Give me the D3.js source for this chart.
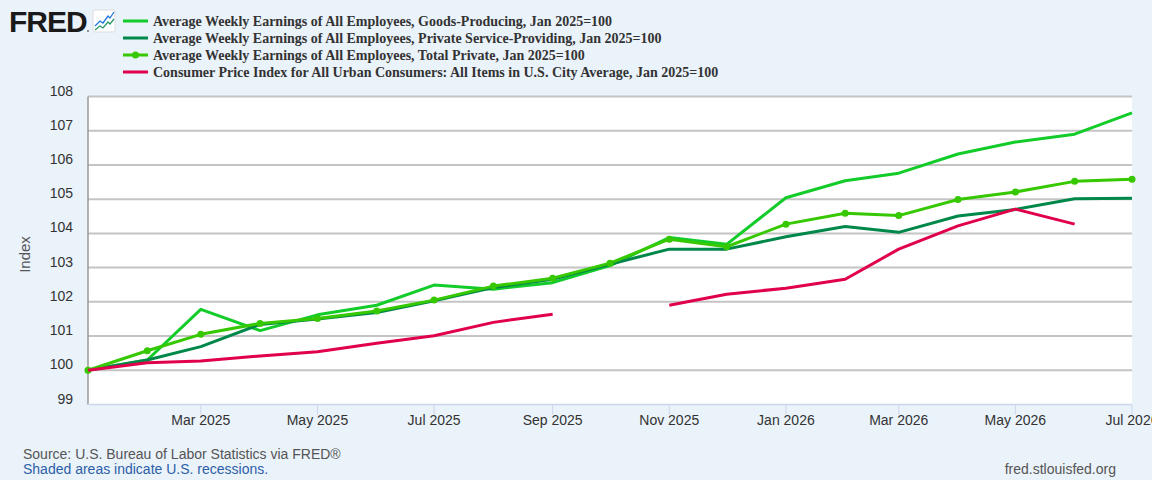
<!doctype html>
<html>
<head>
<meta charset="UTF-8">
<title>FRED earnings vs CPI</title>
<script src="https://cdn.jsdelivr.net/npm/d3@7"></script>
<style>
    body { margin:0; background:#eaf2fa; }
    text { font-family: "Liberation Sans", Arial, sans-serif; }
    .legend text { font-family: "Liberation Serif", "Times New Roman", serif; font-weight:700; font-size:14px; fill:#333; }
    .tick-y { font-size:14px; fill:#333; }
    .tick-x { font-size:14px; fill:#333; text-anchor:middle; }
</style>
</head>
<body>
<script>
    // monthly observations, Jan 2025 = 100
    var months = ['2025-01','2025-02','2025-03','2025-04','2025-05','2025-06','2025-07','2025-08','2025-09','2025-10',
                  '2025-11','2025-12','2026-01','2026-02','2026-03','2026-04','2026-05','2026-06','2026-07'];

    var goods   = [100, 100.30, 101.78, 101.16, 101.62, 101.90, 102.49, 102.37, 102.56, 103.06,
                   103.88, 103.68, 105.04, 105.54, 105.76, 106.32, 106.67, 106.90, 107.52];
    var service = [100, 100.30, 100.69, 101.34, 101.50, 101.69, 102.03, 102.42, 102.66, 103.10,
                   103.54, 103.54, 103.90, 104.20, 104.03, 104.51, 104.70, 105.01, 105.03];
    var total   = [100, 100.57, 101.05, 101.37, 101.51, 101.73, 102.05, 102.46, 102.69, 103.13,
                   103.83, 103.61, 104.27, 104.59, 104.52, 104.99, 105.21, 105.52, 105.58];
    var cpi     = [100, 100.22, 100.27, 100.42, 100.54, 100.79, 101.01, 101.40, 101.64, null,
                   101.90, 102.22, 102.40, 102.66, 103.54, 104.22, 104.71, 104.27, null];

    var yTicks = [99, 100, 101, 102, 103, 104, 105, 106, 107, 108];
    var xTicks = ['2025-03','2025-05','2025-07','2025-09','2025-11','2026-01','2026-03','2026-05','2026-07'];

    var seriesNames = [
        'Average Weekly Earnings of All Employees, Goods-Producing, Jan 2025=100',
        'Average Weekly Earnings of All Employees, Private Service-Providing, Jan 2025=100',
        'Average Weekly Earnings of All Employees, Total Private, Jan 2025=100',
        'Consumer Price Index for All Urban Consumers: All Items in U.S. City Average, Jan 2025=100'
    ];
    var seriesColors = ['#13cc2a', '#00884a', '#36c800', '#e0004b'];

    var W = 1152, H = 480;
    var plot = { left: 88, right: 1132, top: 96.5, bottom: 404.5 };

    var parse = d3.timeParse('%Y-%m');
    var dates = months.map(parse);

    var svg = d3.select('body').append('svg')
        .attr('width', W)
        .attr('height', H);

    var x = d3.scaleTime()
        .domain([parse('2025-01'), parse('2026-07')])
        .range([plot.left, plot.right]);

    var y = d3.scaleLinear()
        .domain([99, 108])
        .range([plot.bottom, plot.top]);

    // plot background
    svg.append('rect')
        .attr('x', plot.left)
        .attr('y', plot.top)
        .attr('width', plot.right - plot.left)
        .attr('height', plot.bottom - plot.top)
        .attr('fill', '#fff');

    // gridlines
    svg.selectAll('.grid')
        .data(yTicks.slice(1))
        .enter()
        .append('line')
        .attr('x1', plot.left)
        .attr('x2', plot.right)
        .attr('y1', function (d) { return y(d); })
        .attr('y2', function (d) { return y(d); })
        .style('stroke', '#c4c4c4')
        .style('stroke-width', 2);

    // y labels (sit a bit above their gridline)
    svg.selectAll('.tick-y')
        .data(yTicks)
        .enter()
        .append('text')
        .attr('class', 'tick-y')
        .attr('x', 73)
        .attr('y', function (d) { return y(d) - 1; })
        .attr('text-anchor', 'end')
        .text(function (d) { return d; });

    svg.append('text')
        .attr('transform', 'translate(30,' + ((plot.top + plot.bottom) / 2 + 4) + ') rotate(-90)')
        .attr('text-anchor', 'middle')
        .style('font-size', '15px')
        .style('fill', '#555')
        .text('Index');

    // axes lines
    svg.append('line')
        .attr('x1', plot.left).attr('x2', plot.left)
        .attr('y1', plot.top).attr('y2', plot.bottom)
        .style('stroke', '#999').style('stroke-width', 1.5);

    svg.append('line')
        .attr('x1', plot.left).attr('x2', plot.right)
        .attr('y1', plot.bottom).attr('y2', plot.bottom)
        .style('stroke', '#ccd6eb').style('stroke-width', 1.5);

    svg.selectAll('.xtickline')
        .data(xTicks)
        .enter()
        .append('line')
        .attr('x1', function (d) { return x(parse(d)); })
        .attr('x2', function (d) { return x(parse(d)); })
        .attr('y1', plot.bottom)
        .attr('y2', plot.bottom + 10)
        .style('stroke', '#ccd6eb');

    var fmt = d3.timeFormat('%b %Y');
    svg.selectAll('.tick-x')
        .data(xTicks)
        .enter()
        .append('text')
        .attr('class', 'tick-x')
        .attr('x', function (d) { return x(parse(d)); })
        .attr('y', 425)
        .text(function (d) { return fmt(parse(d)); });

    // lines
    var line = d3.line()
        .defined(function (d) { return d.v !== null; })
        .x(function (d) { return x(d.date); })
        .y(function (d) { return y(d.v); });

    var allSeries = [goods, service, total, cpi];
    allSeries.forEach(function (vals, i) {
        var pts = vals.map(function (v, j) { return { date: dates[j], v: v }; });
        svg.append('path')
            .datum(pts)
            .attr('d', line)
            .style('fill', 'none')
            .style('stroke', seriesColors[i])
            .style('stroke-width', 3)
            .style('stroke-linejoin', 'round');

        if (i === 2) {
            svg.selectAll('.dot')
                .data(pts)
                .enter()
                .append('circle')
                .attr('cx', function (d) { return x(d.date); })
                .attr('cy', function (d) { return y(d.v); })
                .attr('r', 3.5)
                .style('fill', seriesColors[i]);
        }
    });

    // legend
    var legend = svg.append('g').attr('class', 'legend');
    seriesNames.forEach(function (name, i) {
        var ly = 21 + i * 17;
        legend.append('line')
            .attr('x1', 123).attr('x2', 148)
            .attr('y1', ly).attr('y2', ly)
            .style('stroke', seriesColors[i])
            .style('stroke-width', 3);
        if (i === 2) {
            legend.append('circle')
                .attr('cx', 135.5).attr('cy', ly).attr('r', 3.5)
                .style('fill', seriesColors[i]);
        }
        legend.append('text')
            .attr('x', 153)
            .attr('y', ly + 5)
            .text(name);
    });

    // FRED logo
    svg.append('text')
        .attr('x', 9)
        .attr('y', 32)
        .style('font-size', '30px')
        .style('font-weight', 700)
        .style('letter-spacing', '-1px')
        .style('fill', '#1a1a1a')
        .text('FRED');
    svg.append('circle').attr('cx', 88).attr('cy', 31).attr('r', 0.8).style('fill', '#1a1a1a');
    var icon = svg.append('g').attr('transform', 'translate(93,10)');
    icon.append('rect').attr('width', 22).attr('height', 22).attr('rx', 2)
        .style('fill', '#fff').style('stroke', '#ddd');
    icon.append('path').attr('d', 'M2,16 L7,11 L10,13 L15,6 L17,8 L21,2')
        .style('fill', 'none').style('stroke', '#2277dd').style('stroke-width', 1.3);
    icon.append('path').attr('d', 'M2,20 L7,16 L10,18 L15,12 L17,14 L21,9')
        .style('fill', 'none').style('stroke', '#2a9a6a').style('stroke-width', 1.3);

    // footer
    svg.append('text')
        .attr('x', 23).attr('y', 459)
        .style('font-size', '14px').style('fill', '#555')
        .text('Source: U.S. Bureau of Labor Statistics via FRED®');
    svg.append('text')
        .attr('x', 23).attr('y', 474)
        .style('font-size', '14px').style('fill', '#2d5fa8')
        .text('Shaded areas indicate U.S. recessions.');
    svg.append('text')
        .attr('x', 1116).attr('y', 474)
        .attr('text-anchor', 'end')
        .style('font-size', '14px').style('fill', '#555')
        .text('fred.stlouisfed.org');
</script>
</body>
</html>
